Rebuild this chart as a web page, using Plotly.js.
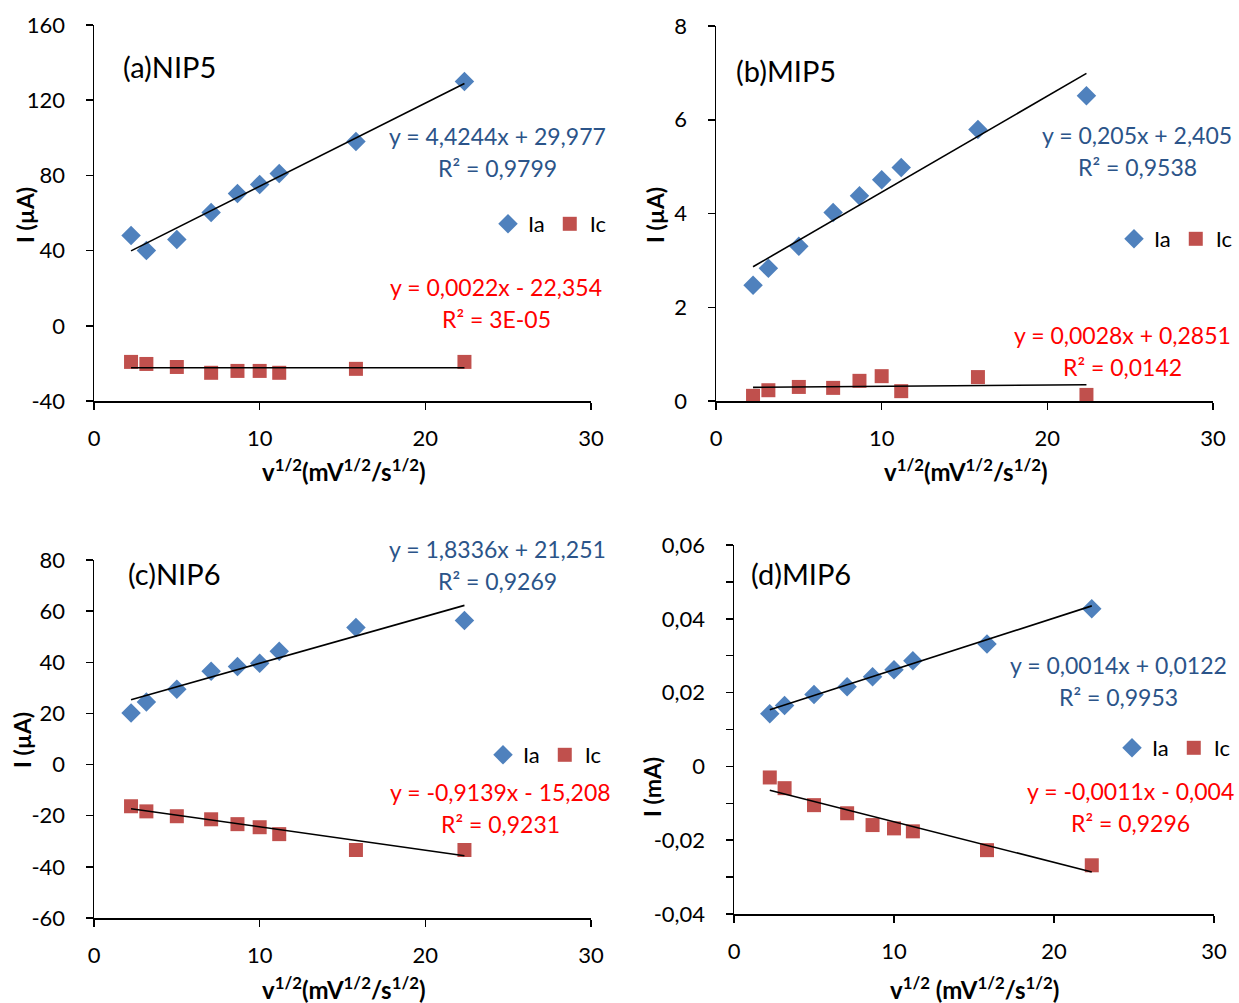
<!DOCTYPE html>
<html><head><meta charset="utf-8">
<script src="https://cdn.plot.ly/plotly-3.0.1.min.js"></script>
<style>html,body{margin:0;padding:0;background:#fff}#chart{width:1239px;height:1003px}</style>
</head><body><div id="chart"></div>
<script>
// scan-rate square roots (v^1/2)
const xv = [2.236, 3.162, 5.0, 7.071, 8.660, 10.0, 11.180, 15.811, 22.361];

// (a) NIP5
const aIa = [48, 40, 45.9, 60.3, 70.4, 75.2, 81, 98, 130];
const aIc = [-19.2, -20.3, -21.9, -25, -24, -24, -25, -22.9, -19.2];
// (b) MIP5
const bIa = [2.47, 2.83, 3.30, 4.02, 4.38, 4.72, 4.98, 5.79, 6.51];
const bIc = [0.11, 0.23, 0.30, 0.28, 0.43, 0.53, 0.21, 0.51, 0.13];
// (c) NIP6
const cIa = [20.2, 24.5, 29.5, 36.5, 38.4, 39.6, 44.3, 53.6, 56.3];
const cIc = [-16.3, -18.3, -20.2, -21.4, -23.3, -24.5, -27.2, -33.4, -33.4];
// (d) MIP6
const dIa = [0.0143, 0.0165, 0.0195, 0.0216, 0.0243, 0.0262, 0.0286, 0.0332, 0.0427];
const dIc = [-0.0030, -0.0059, -0.0105, -0.0127, -0.0159, -0.0168, -0.0176, -0.0227, -0.0268];

// trendline coefficients [slope, intercept]
const fitA = {Ia: [4.4244, 29.977], Ic: [0.0022, -22.354]};
const fitB = {Ia: [0.205, 2.405], Ic: [0.0028, 0.2851]};
const fitC = {Ia: [1.8336, 21.251], Ic: [-0.9139, -15.208]};
const fitD = {Ia: [0.0014, 0.0122], Ic: [-0.0011, -0.004]};

const eqA = ["y = 4,4244x + 29,977", "R² = 0,9799", "y = 0,0022x - 22,354", "R² = 3E-05"];
const eqB = ["y = 0,205x + 2,405", "R² = 0,9538", "y = 0,0028x + 0,2851", "R² = 0,0142"];
const eqC = ["y = 1,8336x + 21,251", "R² = 0,9269", "y = -0,9139x - 15,208", "R² = 0,9231"];
const eqD = ["y = 0,0014x + 0,0122", "R² = 0,9953", "y = -0,0011x - 0,004", "R² = 0,9296"];

const panelLabels = ["(a)NIP5", "(b)MIP5", "(c)NIP6", "(d)MIP6"];
const seriesNames = ["Ia", "Ic"];

const yTicksA = {vals: [-40, 0, 40, 80, 120, 160], text: ["-40", "0", "40", "80", "120", "160"]};
const yTicksB = {vals: [0, 2, 4, 6, 8], text: ["0", "2", "4", "6", "8"]};
const yTicksC = {vals: [-60, -40, -20, 0, 20, 40, 60, 80], text: ["-60", "-40", "-20", "0", "20", "40", "60", "80"]};
const yTicksD = {vals: [-0.04, -0.02, 0, 0.02, 0.04, 0.06], text: ["-0,04", "-0,02", "0", "0,02", "0,04", "0,06"]};
const xTicks = {vals: [0, 10, 20, 30], text: ["0", "10", "20", "30"]};

const W = 1239, H = 1003;
const FONT = "Lato, 'Open Sans', sans-serif";
const BLUE = "#4F81BD", RED = "#C0504D", EQBLUE = "#2B5489", EQRED = "#FF0000";

// panel geometry in pixels: [left, right, top, bottom]
const boxes = [[94, 591, 25, 401], [716, 1213, 26, 401], [94, 591, 560, 918], [734, 1214, 545, 914]];
const yRanges = [[-40, 160], [0, 8], [-60, 80], [-0.04, 0.06]];
const yTicks = [yTicksA, yTicksB, yTicksC, yTicksD];
const ia = [aIa, bIa, cIa, dIa], ic = [aIc, bIc, cIc, dIc];
const fits = [fitA, fitB, fitC, fitD];
const eqs = [eqA, eqB, eqC, eqD];
const yTitles = ["<b>I (µA)</b>", "<b>I (µA)</b>", "<b>I (µA)</b>", "<b>I (mA)</b>"];
const xTitles = ["<b>v<sup>1/2</sup>(mV<sup>1/2</sup>/s<sup>1/2</sup>)</b>", "<b>v<sup>1/2</sup>(mV<sup>1/2</sup>/s<sup>1/2</sup>)</b>",
                 "<b>v<sup>1/2</sup>(mV<sup>1/2</sup>/s<sup>1/2</sup>)</b>", "<b>v<sup>1/2</sup> (mV<sup>1/2</sup>/s<sup>1/2</sup>)</b>"];

// positions of texts (pixels)
const labelPos = [[121, 67], [734, 70], [126, 573], [749, 573]];
const eqPos = [[[498, 136], [498, 168], [496, 287], [496, 319]],
               [[1137, 135], [1137, 167], [1122, 335], [1122, 367]],
               [[498, 549], [498, 581], [500, 792], [500, 824]],
               [[1118, 665], [1118, 697], [1130, 791], [1130, 823]]];
const yTitlePos = [[25, 215], [655, 215], [22, 740], [652, 787]];
const xTitlePos = [[344, 470], [966, 470], [344, 988], [974, 988]];
const legendPos = [[612, 224], [1238, 239], [607, 755], [1236, 748]];

const px = x => x / W, py = y => 1 - y / H;

const traces = [], annotations = [];
const layout = {
  width: W, height: H, margin: {l: 0, r: 0, t: 0, b: 0, autoexpand: false},
  paper_bgcolor: "#fff", plot_bgcolor: "rgba(0,0,0,0)",
  font: {family: FONT, size: 20, color: "#000"},
  separators: ", ", showlegend: true, annotations: annotations
};

for (let i = 0; i < 4; i++) {
  const n = i === 0 ? "" : String(i + 1);
  const xa = "x" + n, ya = "y" + n;
  const lg = i === 0 ? "legend" : "legend" + (i + 1);
  const [l, r, t, b] = boxes[i];
  layout["xaxis" + n] = {
    domain: [px(l), px(r)], anchor: ya, range: [0, 30], automargin: false,
    tickmode: "array", tickvals: xTicks.vals, ticktext: xTicks.text,
    showgrid: false, zeroline: false, showline: true, linecolor: "#000", linewidth: 1.5,
    ticks: "outside", ticklen: 7, tickwidth: 1.5, tickcolor: "#000",
    tickfont: {size: 22, family: FONT}, ticklabelstandoff: 10, fixedrange: true
  };
  const yax = {
    domain: [py(b), py(t)], anchor: xa, range: yRanges[i], automargin: false,
    tickmode: "array", tickvals: yTicks[i].vals, ticktext: yTicks[i].text,
    showgrid: false, zeroline: false, showline: true, linecolor: "#000", linewidth: 1.5,
    ticks: "outside", ticklen: 7, tickwidth: 1.5, tickcolor: "#000",
    tickfont: {size: 22, family: FONT}, ticklabelstandoff: 16, fixedrange: true
  };
  if (i === 3) yax.minor = {dtick: 0.01, tick0: 0, ticks: "outside", ticklen: 7, tickwidth: 1.5, tickcolor: "#000", showgrid: false};
  layout["yaxis" + n] = yax;

  layout[lg] = {
    orientation: "h", x: px(legendPos[i][0]), y: py(legendPos[i][1]), xanchor: "right", yanchor: "middle",
    font: {size: 22, family: FONT, color: "#000"}, bgcolor: "rgba(0,0,0,0)", borderwidth: 0,
    itemwidth: 30, tracegroupgap: 0, itemclick: false, itemdoubleclick: false
  };

  traces.push({x: xv, y: ia[i], xaxis: xa, yaxis: ya, type: "scatter", mode: "markers", name: seriesNames[0],
    legend: lg, marker: {symbol: "diamond", size: 15, color: BLUE}});
  traces.push({x: xv, y: ic[i], xaxis: xa, yaxis: ya, type: "scatter", mode: "markers", name: seriesNames[1],
    legend: lg, marker: {symbol: "square", size: 14, color: RED}});

  const x0 = Math.min(...xv), x1 = Math.max(...xv);
  ["Ia", "Ic"].forEach(k => {
    const [m, c] = fits[i][k];
    traces.push({x: [x0, x1], y: [m * x0 + c, m * x1 + c], xaxis: xa, yaxis: ya, type: "scatter", mode: "lines",
      showlegend: false, line: {color: "#000", width: 1.6}, hoverinfo: "skip"});
  });

  annotations.push({xref: "paper", yref: "paper", x: px(labelPos[i][0]), y: py(labelPos[i][1]), xanchor: "left", yanchor: "middle",
    text: panelLabels[i], showarrow: false, font: {size: 29, family: FONT, color: "#000"}});
  eqs[i].forEach((tx, j) => {
    annotations.push({xref: "paper", yref: "paper", x: px(eqPos[i][j][0]), y: py(eqPos[i][j][1]), xanchor: "center", yanchor: "middle",
      text: tx, showarrow: false, font: {size: 23, family: FONT, color: j < 2 ? EQBLUE : EQRED}});
  });
  annotations.push({xref: "paper", yref: "paper", x: px(yTitlePos[i][0]), y: py(yTitlePos[i][1]), xanchor: "center", yanchor: "middle",
    text: yTitles[i], textangle: -90, showarrow: false, font: {size: 23, family: FONT, color: "#000"}});
  annotations.push({xref: "paper", yref: "paper", x: px(xTitlePos[i][0]), y: py(xTitlePos[i][1]), xanchor: "center", yanchor: "middle",
    text: xTitles[i], showarrow: false, font: {size: 24, family: FONT, color: "#000"}});
}

Plotly.newPlot("chart", traces, layout, {displayModeBar: false, staticPlot: true});
</script></body></html>
